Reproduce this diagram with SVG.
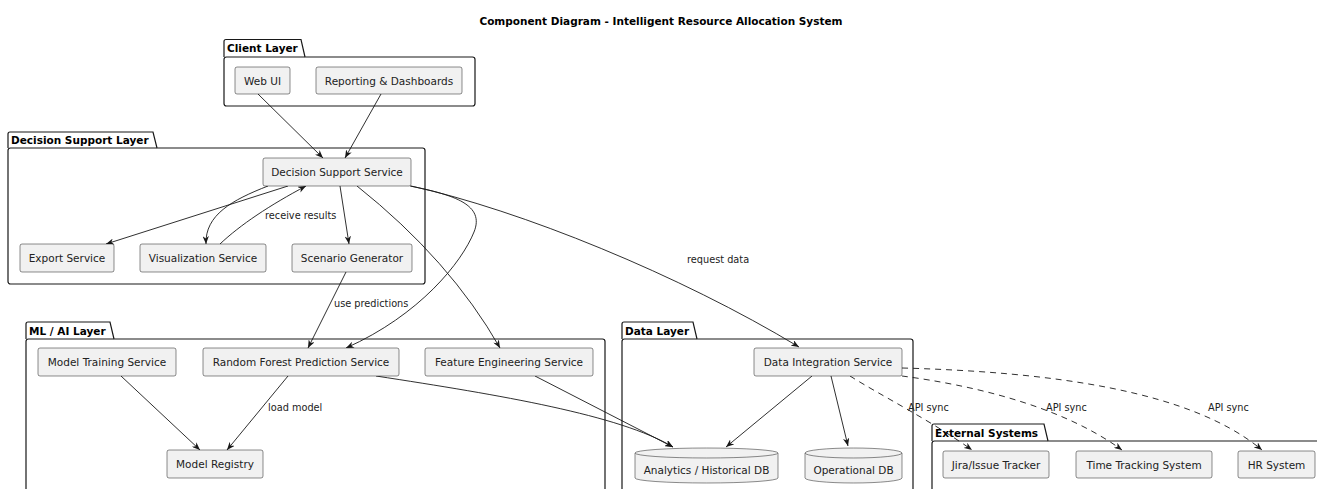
<svg xmlns="http://www.w3.org/2000/svg" width="1317" height="489" viewBox="0 0 1317 489">
<style>
  .pkg { fill: none; stroke: #181818; stroke-width: 1.2; }
  .tabt { font-family: "DejaVu Sans", sans-serif; font-weight: bold; font-size: 10.5px; fill: #000; }
  .comp { fill: #F1F1F1; stroke: #181818; stroke-width: 0.5; }
  .ct { font-family: "DejaVu Sans", sans-serif; font-size: 10.5px; fill: #222; text-anchor: middle; }
  .lbl { font-family: "DejaVu Sans", sans-serif; font-size: 9.75px; fill: #222; }
  .edge { fill: none; stroke: #181818; stroke-width: 0.9; marker-end: url(#arr); }
  .dash { stroke-dasharray: 6 5; }
  .title { font-family: "DejaVu Sans", sans-serif; font-weight: bold; font-size: 10.5px; fill: #000; text-anchor: middle; }
</style>
<defs>
  <marker id="arr" viewBox="0 0 10 8" refX="10" refY="4" markerWidth="8" markerHeight="6.4" markerUnits="userSpaceOnUse" orient="auto">
    <path d="M0,0 L10,4 L0,8 L3,4 Z" fill="#181818" stroke="none"/>
  </marker>
</defs>
<rect width="1317" height="489" fill="#fff"/>
<text class="title" x="661" y="25">Component Diagram - Intelligent Resource Allocation System</text>

<g id="pkg-client">
  <path class="pkg" d="M224,57 V41.5 Q224,39.5 226,39.5 H301 L305,57"/>
  <rect class="pkg" x="224" y="57" width="251" height="49" rx="2.5"/>
  <text class="tabt" x="227" y="52">Client Layer</text>
</g>
<g id="pkg-decision">
  <path class="pkg" d="M8,148 V134 Q8,132 10,132 H153 L157,148"/>
  <rect class="pkg" x="8" y="148" width="417" height="136" rx="2.5"/>
  <text class="tabt" x="11" y="144">Decision Support Layer</text>
</g>
<g id="pkg-ml">
  <path class="pkg" d="M26,339 V324 Q26,322 28,322 H110 L114,339"/>
  <rect class="pkg" x="26" y="339" width="579" height="170" rx="2.5"/>
  <text class="tabt" x="29" y="334.5">ML / AI Layer</text>
</g>
<g id="pkg-data">
  <path class="pkg" d="M622,339 V324 Q622,322 624,322 H693 L697,339"/>
  <rect class="pkg" x="622" y="339" width="291" height="170" rx="2.5"/>
  <text class="tabt" x="625" y="334.5">Data Layer</text>
</g>
<g id="pkg-external">
  <path class="pkg" d="M932,441 V426 Q932,424 934,424 H1044 L1048,441"/>
  <rect class="pkg" x="932" y="441" width="400" height="70" rx="2.5"/>
  <text class="tabt" x="935" y="436.5">External Systems</text>
</g>

<g id="connectors">
  <path class="edge" d="M258,94 L323,158"/>
  <path class="edge" d="M381,94 L345,158"/>
  <path class="edge" d="M288,186 L106,244"/>
  <path class="edge" d="M268,186 C232,200 205,215 206,244"/>
  <path class="edge" d="M220,244 C240,225 270,205 306,186"/>
  <text class="lbl" x="265" y="218.5">receive results</text>
  <path class="edge" d="M340,186 L349,244"/>
  <path class="edge" d="M357,186 Q450,260 500,348"/>
  <path class="edge" d="M346,272 L308,348"/>
  <text class="lbl" x="334" y="306.5">use predictions</text>
  <path class="edge" d="M410,186 C455,195 485,205 474,232 C462,262 420,315 346,348"/>
  <path class="edge" d="M411,186 C520,210 680,275 799,347"/>
  <text class="lbl" x="687" y="262.5">request data</text>
  <path class="edge" d="M121,376 L200,450"/>
  <path class="edge" d="M288,376 L227,450"/>
  <text class="lbl" x="268" y="410.5">load model</text>
  <path class="edge" d="M376,376 C500,395 620,415 673,447"/>
  <path class="edge" d="M535,376 L673,447"/>
  <path class="edge" d="M812,376 L726,447"/>
  <path class="edge" d="M831,376 L848,446"/>
  <path class="edge dash" d="M850,376 C880,395 930,420 972,450"/>
  <text class="lbl" x="908" y="410.5">API sync</text>
  <path class="edge dash" d="M902,376 C970,385 1060,405 1122,450"/>
  <text class="lbl" x="1046" y="410.5">API sync</text>
  <path class="edge dash" d="M902,368 C1050,372 1190,390 1262,450"/>
  <text class="lbl" x="1208" y="410.5">API sync</text>
</g>

<g id="web-ui"><rect class="comp" x="235" y="67" width="55" height="27" rx="2"/><text class="ct" x="262.5" y="84.5">Web UI</text></g>
<g id="reporting"><rect class="comp" x="316" y="67" width="146" height="27" rx="2"/><text class="ct" x="389" y="84.5">Reporting &amp; Dashboards</text></g>
<g id="decision-support-service"><rect class="comp" x="263" y="158" width="148" height="28" rx="2"/><text class="ct" x="337" y="176">Decision Support Service</text></g>
<g id="export-service"><rect class="comp" x="20" y="244" width="94" height="28" rx="2"/><text class="ct" x="67" y="262">Export Service</text></g>
<g id="visualization-service"><rect class="comp" x="140" y="244" width="126" height="28" rx="2"/><text class="ct" x="203" y="262">Visualization Service</text></g>
<g id="scenario-generator"><rect class="comp" x="292" y="244" width="120" height="28" rx="2"/><text class="ct" x="352" y="262">Scenario Generator</text></g>
<g id="model-training"><rect class="comp" x="38" y="348" width="138" height="28" rx="2"/><text class="ct" x="107" y="366">Model Training Service</text></g>
<g id="random-forest"><rect class="comp" x="203" y="348" width="196" height="28" rx="2"/><text class="ct" x="301" y="366">Random Forest Prediction Service</text></g>
<g id="feature-engineering"><rect class="comp" x="425" y="348" width="168" height="28" rx="2"/><text class="ct" x="509" y="366">Feature Engineering Service</text></g>
<g id="model-registry"><rect class="comp" x="167" y="450" width="96" height="28" rx="2"/><text class="ct" x="215" y="468">Model Registry</text></g>
<g id="data-integration"><rect class="comp" x="754" y="348" width="148" height="28" rx="2"/><text class="ct" x="828" y="366">Data Integration Service</text></g>
<g id="analytics-db">
  <path class="comp" d="M635,453 A71.5,5 0 0 1 778,453 V478 A71.5,5 0 0 1 635,478 Z"/>
  <path class="comp" fill="none" d="M635,453 A71.5,5 0 0 0 778,453"/>
  <text class="ct" x="706.5" y="474">Analytics / Historical DB</text>
</g>
<g id="operational-db">
  <path class="comp" d="M805,453 A48.5,5 0 0 1 902,453 V478 A48.5,5 0 0 1 805,478 Z"/>
  <path class="comp" fill="none" d="M805,453 A48.5,5 0 0 0 902,453"/>
  <text class="ct" x="853.5" y="474">Operational DB</text>
</g>
<g id="jira"><rect class="comp" x="943" y="451" width="106" height="27" rx="2"/><text class="ct" x="996" y="468.5">Jira/Issue Tracker</text></g>
<g id="time-tracking"><rect class="comp" x="1076" y="451" width="136" height="27" rx="2"/><text class="ct" x="1144" y="468.5">Time Tracking System</text></g>
<g id="hr-system"><rect class="comp" x="1238" y="451" width="77" height="27" rx="2"/><text class="ct" x="1276.5" y="468.5">HR System</text></g>
</svg>
